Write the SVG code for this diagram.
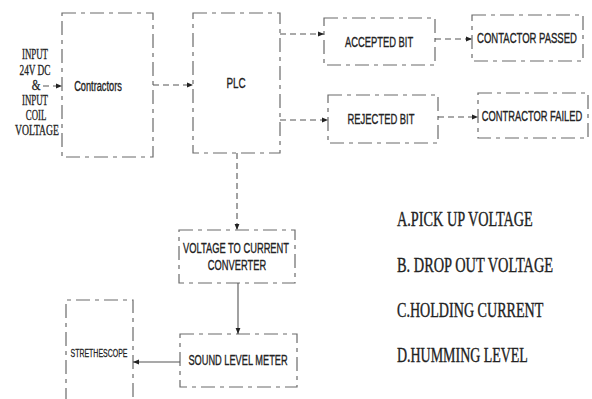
<svg xmlns="http://www.w3.org/2000/svg" width="592" height="399" viewBox="0 0 592 399">
<defs>
<style>
.box{fill:none;stroke:#6a6a6a;stroke-width:1.2;stroke-dasharray:14 5 4 5}
.con{fill:none;stroke:#555;stroke-width:1.1;stroke-dasharray:6 4}
.solid{fill:none;stroke:#555;stroke-width:1.1}
.t{font-family:"Liberation Sans",Arial,sans-serif;font-size:15px;fill:#222;stroke:#222;stroke-width:0.35;text-anchor:middle}
.s{font-family:"Liberation Serif","Times New Roman",serif;font-size:14px;fill:#222;stroke:#222;stroke-width:0.3;text-anchor:middle}
.l{font-family:"Liberation Serif","Times New Roman",serif;font-size:20px;fill:#222;stroke:#222;stroke-width:0.35}
</style>
<marker id="ah" viewBox="0 0 10 10" refX="10" refY="5" markerWidth="6" markerHeight="6" orient="auto" markerUnits="userSpaceOnUse">
<path d="M0,1 L10,5 L0,9 Z" fill="#222"/>
</marker>
</defs>
<rect width="592" height="399" fill="#fff"/>

<g id="input">
<text class="s" transform="translate(35,59) scale(0.62,1)" textLength="42" lengthAdjust="spacingAndGlyphs">INPUT</text>
<text class="s" transform="translate(35,75) scale(0.62,1)" textLength="50" lengthAdjust="spacingAndGlyphs">24V DC</text>
<text class="s" transform="translate(36,90) scale(0.8,1)">&amp;</text>
<text class="s" transform="translate(35,105) scale(0.62,1)" textLength="42" lengthAdjust="spacingAndGlyphs">INPUT</text>
<text class="s" transform="translate(36,120) scale(0.62,1)" textLength="33" lengthAdjust="spacingAndGlyphs">COIL</text>
<text class="s" transform="translate(37,135) scale(0.62,1)" textLength="71" lengthAdjust="spacingAndGlyphs">VOLTAGE</text>
</g>

<g id="contractors">
<rect class="box" x="62" y="13" width="91" height="144"/>
<text class="t" transform="translate(98,91) scale(0.62,1)" textLength="77" lengthAdjust="spacingAndGlyphs">Contractors</text>
</g>

<g id="plc">
<rect class="box" x="193" y="13" width="87" height="140"/>
<text class="t" transform="translate(236,88) scale(0.62,1)" textLength="31" lengthAdjust="spacingAndGlyphs">PLC</text>
</g>

<g id="accepted">
<rect class="box" x="324" y="18" width="111" height="47"/>
<text class="t" transform="translate(379,47) scale(0.62,1)" textLength="110" lengthAdjust="spacingAndGlyphs">ACCEPTED BIT</text>
</g>

<g id="rejected">
<rect class="box" x="328" y="95" width="110" height="48"/>
<text class="t" transform="translate(381,124) scale(0.62,1)" textLength="108" lengthAdjust="spacingAndGlyphs">REJECTED BIT</text>
</g>

<g id="passed">
<rect class="box" x="472" y="15" width="111" height="46"/>
<text class="t" transform="translate(527,43) scale(0.62,1)" textLength="161" lengthAdjust="spacingAndGlyphs">CONTACTOR PASSED</text>
</g>

<g id="failed">
<rect class="box" x="478" y="93" width="110" height="45"/>
<text class="t" transform="translate(532,121) scale(0.62,1)" textLength="162" lengthAdjust="spacingAndGlyphs">CONTRACTOR FAILED</text>
</g>

<g id="converter">
<rect class="box" x="179" y="230" width="116" height="53"/>
<text class="t" transform="translate(236,253) scale(0.62,1)" textLength="171" lengthAdjust="spacingAndGlyphs">VOLTAGE TO CURRENT</text>
<text class="t" transform="translate(237,270) scale(0.62,1)" textLength="94" lengthAdjust="spacingAndGlyphs">CONVERTER</text>
</g>

<g id="soundmeter">
<rect class="box" x="180" y="334" width="117" height="53"/>
<text class="t" transform="translate(238,365) scale(0.62,1)" textLength="160" lengthAdjust="spacingAndGlyphs">SOUND LEVEL METER</text>
</g>

<g id="strethescope">
<path class="box" d="M66,402 V300 H133 V402"/>
<text class="t" transform="translate(99,357) scale(0.62,1)" style="font-size:11px;stroke-width:0.25" textLength="92" lengthAdjust="spacingAndGlyphs">STRETHESCOPE</text>
</g>

<g id="legend">
<text class="l" transform="translate(397,226) scale(0.7,1)" textLength="194" lengthAdjust="spacingAndGlyphs">A.PICK UP VOLTAGE</text>
<text class="l" transform="translate(397,272) scale(0.7,1)" textLength="223" lengthAdjust="spacingAndGlyphs">B. DROP OUT VOLTAGE</text>
<text class="l" transform="translate(397,317) scale(0.7,1)" textLength="209" lengthAdjust="spacingAndGlyphs">C.HOLDING CURRENT</text>
<text class="l" transform="translate(397,362) scale(0.7,1)" textLength="187" lengthAdjust="spacingAndGlyphs">D.HUMMING LEVEL</text>
</g>

<g id="connectors">
<line class="con" x1="43" y1="86" x2="62" y2="86" marker-end="url(#ah)"/>
<line class="con" x1="153" y1="85" x2="193" y2="85" marker-end="url(#ah)"/>
<line class="con" x1="280" y1="34" x2="324" y2="34" marker-end="url(#ah)"/>
<line class="con" x1="280" y1="120" x2="328" y2="120" marker-end="url(#ah)"/>
<line class="con" x1="435" y1="39" x2="472" y2="39" marker-end="url(#ah)"/>
<line class="con" x1="438" y1="117" x2="478" y2="117" marker-end="url(#ah)"/>
<line class="con" x1="237" y1="153" x2="237" y2="230" marker-end="url(#ah)"/>
<line class="solid" x1="238" y1="283" x2="238" y2="334" marker-end="url(#ah)"/>
<line class="solid" x1="180" y1="362" x2="133" y2="362" marker-end="url(#ah)"/>
</g>
</svg>
